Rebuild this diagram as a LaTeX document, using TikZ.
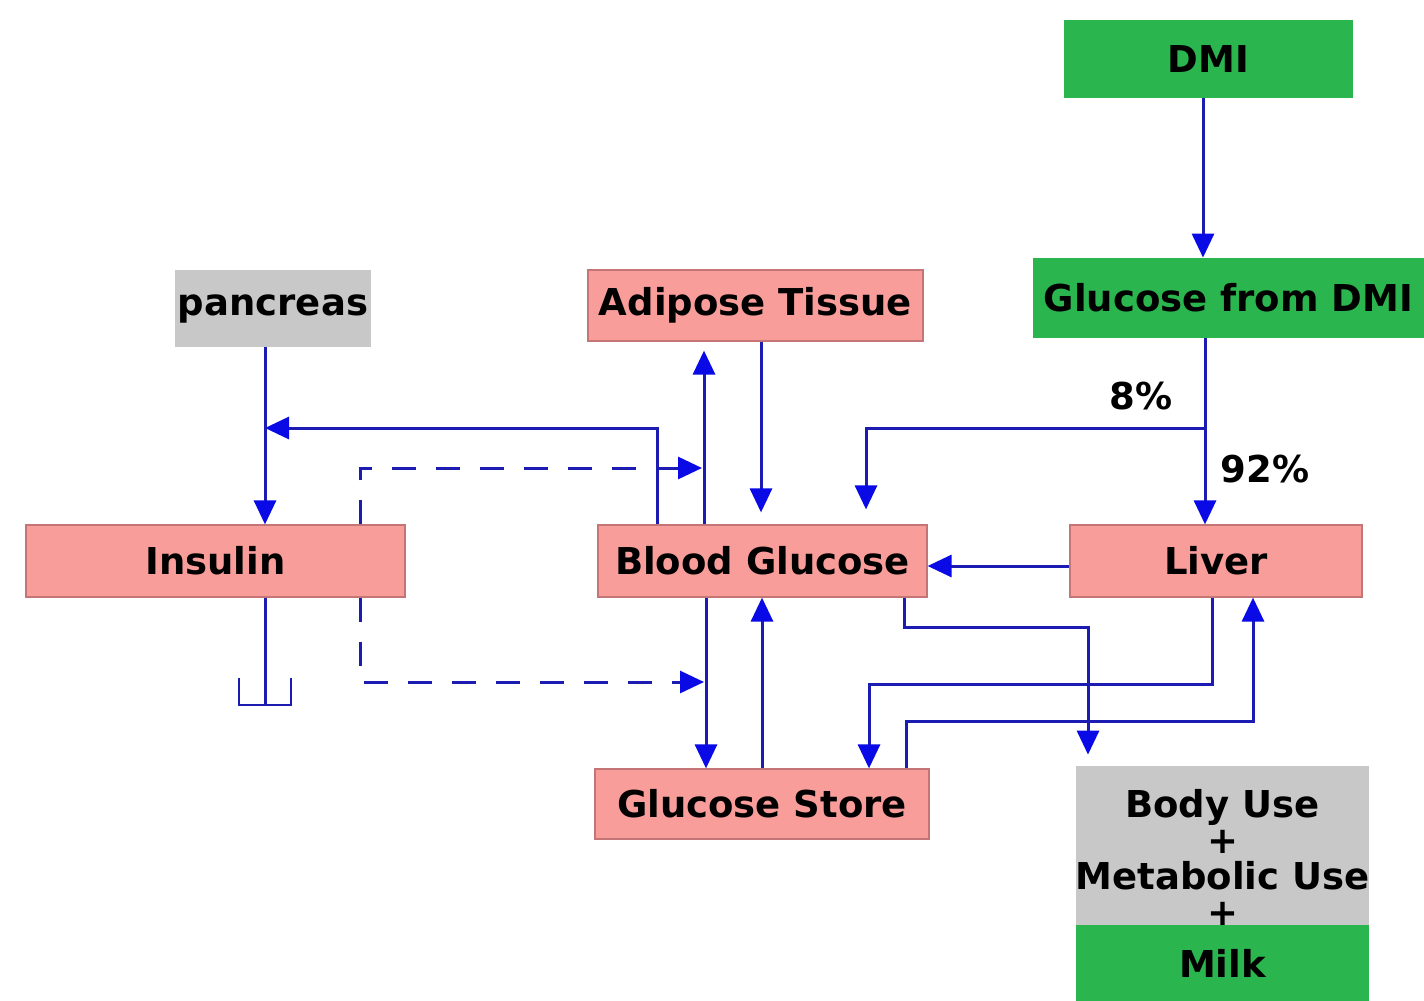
\documentclass[tikz,border=0pt]{standalone}
\usepackage{fontspec}
\setmainfont{DejaVu Sans}
\usepackage{xcolor}
\usetikzlibrary{arrows.meta}

\definecolor{boxpink}{RGB}{249,157,154}
\definecolor{pinkline}{RGB}{196,118,118}
\definecolor{boxgreen}{RGB}{43,181,78}
\definecolor{boxgray}{RGB}{200,200,200}
\definecolor{flowblue}{RGB}{28,28,178}
\definecolor{tipblue}{RGB}{10,10,230}

\begin{document}
\begin{tikzpicture}[x=0.5pt,y=-0.5pt]
						\tikzstyle{box}=[rectangle,inner sep=0pt,text=black,font=\bfseries\fontsize{18.5}{18}\selectfont]
						\tikzstyle{organ}=[box,fill=boxpink,draw=pinkline,line width=0.6pt]
						\tikzstyle{feed}=[box,fill=boxgreen]
						\tikzstyle{other}=[box,fill=boxgray]
						\tikzstyle{lbl}=[inner sep=0pt,font=\bfseries\fontsize{18.5}{18}\selectfont]
						\tikzstyle{flow}=[draw=flowblue,line width=1.5pt,-{Triangle[length=12pt,width=11pt,color=tipblue]}]
						\tikzstyle{hint}=[flow,dash pattern=on 12pt off 10pt]
						\useasboundingbox (0,0) rectangle (1424,1001);
						\fill[white] (0,0) rectangle (1424,1001);
						\node[feed,minimum width=144.5pt,minimum height=39pt](dmi) at (1208.5,59) {DMI};
						\node[feed,minimum width=195.5pt,minimum height=40pt](gdmi) at (1228.5,298) {Glucose from DMI};
						\node[other,minimum width=98pt,minimum height=38.5pt](panc) at (273,308.5) {pancreas};
						\node[organ,minimum width=167.5pt,minimum height=35.5pt](adip) at (755.5,305.5) {Adipose Tissue};
						\node[organ,minimum width=189.5pt,minimum height=36pt](ins) at (215.5,561) {Insulin};
						\node[organ,minimum width=164.5pt,minimum height=36pt](bg) at (762.5,561) {Blood Glucose};
						\node[organ,minimum width=146pt,minimum height=36pt](liver) at (1216,561) {Liver};
						\node[organ,minimum width=167pt,minimum height=35pt](store) at (762,804) {Glucose Store};
						\node[other,align=center,minimum width=146.5pt,minimum height=91pt](body) at (1222.5,857) {Body Use\\+\\Metabolic Use\\+};
						\node[feed,minimum width=146.5pt,minimum height=38pt](milk) at (1222.5,963) {Milk};
						\coordinate (split) at (1205,428);
						\coordinate (pjoin) at (265,428);
						\coordinate (fatin) at (702,468);
						\coordinate (storein) at (704,682);
						\coordinate (block) at (265,705);
						% feed side
						\draw[flow] (1203,0 |- dmi.south) -- (1203,0 |- gdmi.north);
						\draw[flow] (1205,0 |- gdmi.south) -- node[lbl,pos=0.7,anchor=west,xshift=7pt] {92\%} (1205,0 |- liver.north);
						\draw[flow,shorten >=7.5pt] (split) -| node[lbl,pos=0.094,above=8pt] {8\%} (866,0 |- bg.north);
						% pancreas and insulin
						\draw[flow] (657,0 |- bg.north) |- (pjoin);
						\draw[flow] (265,0 |- panc.south) -- (265,0 |- ins.north);
						\draw[hint] (360,0 |- ins.north) |- (fatin);
						\draw[hint] (360,0 |- ins.south) |- (storein);
						\draw[draw=flowblue,line width=1.5pt] (265,0 |- ins.south) -- (block);
						\draw[draw=flowblue,line width=1.3pt] (block) ++(-26,-27) |- ++(52,27) -- ++(0,-27);
						% adipose and store
						\draw[flow,shorten >=4.5pt] (704,0 |- bg.north) -- (704,0 |- adip.south);
						\draw[flow,shorten >=6pt] (761,0 |- adip.south) -- (761,0 |- bg.north);
						\draw[flow] (706,0 |- bg.south) -- (706,0 |- store.north);
						\draw[flow] (762,0 |- store.north) -- (762,0 |- bg.south);
						% liver
						\draw[flow] ([yshift=-2.5pt]liver.west) -- ([yshift=-2.5pt]bg.east);
						\draw[flow,shorten >=5.5pt] (904,0 |- bg.south) |- (1088,627) -- (1088,0 |- body.north);
						\draw[flow] (1212,0 |- liver.south) |- (869,684) -- (869,0 |- store.north);
						\draw[flow] (906,0 |- store.north) |- (1253,721) -- (1253,0 |- liver.south);
\end{tikzpicture}
\end{document}
